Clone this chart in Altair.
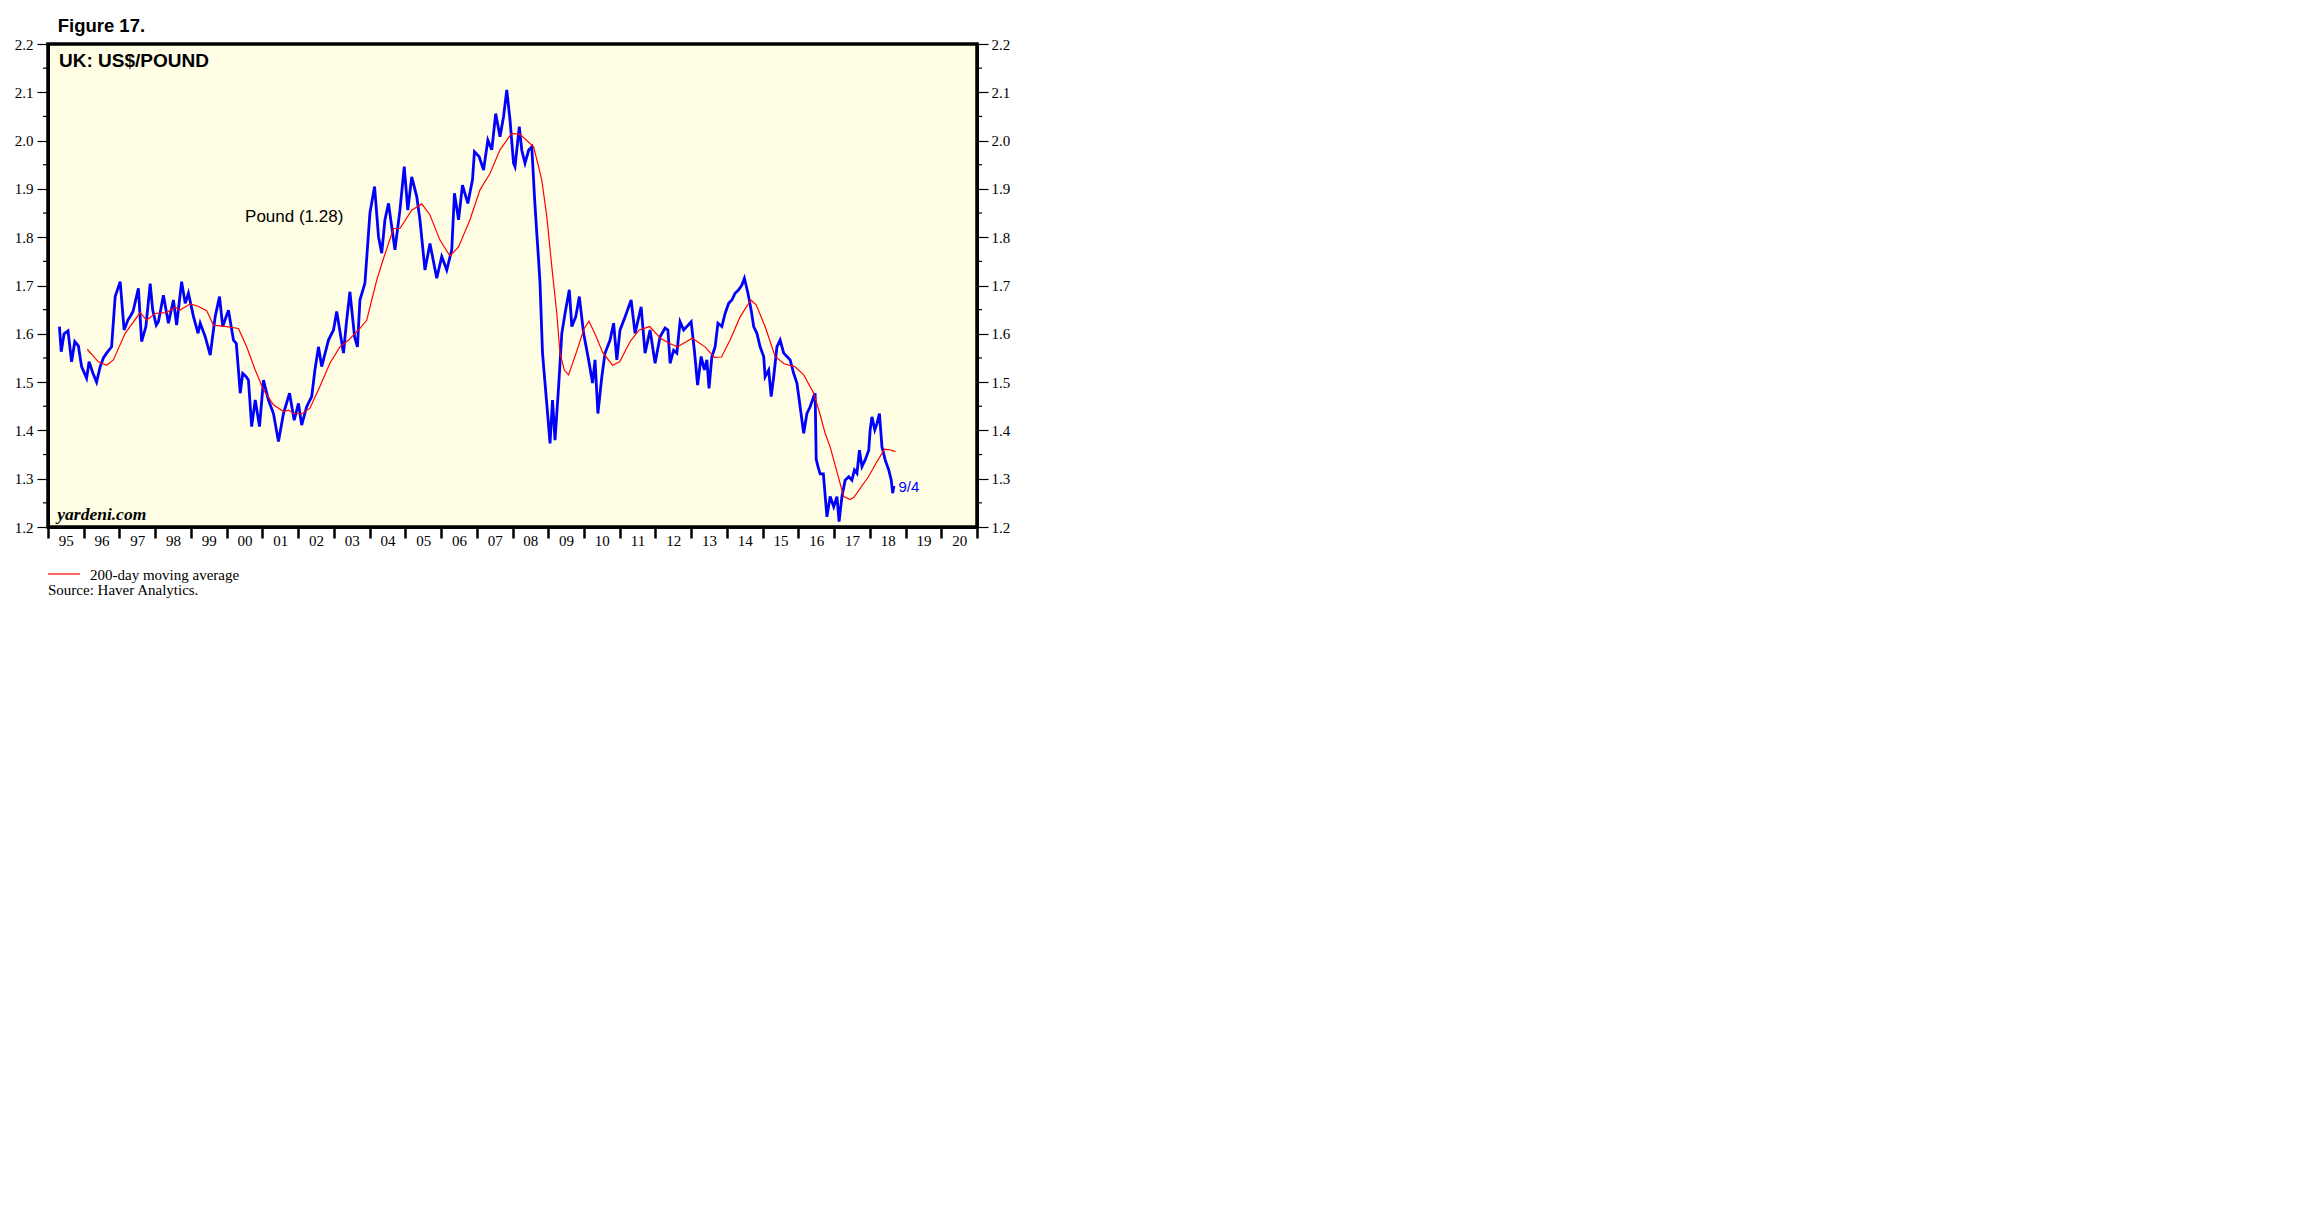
import altair as alt
import pandas as pd

# ---------------- data ----------------
pound_t = [1995.32, 1995.37, 1995.45, 1995.56, 1995.66, 1995.75, 1995.85, 1995.94, 1996.08, 1996.15,
           1996.25, 1996.36, 1996.46, 1996.55, 1996.64, 1996.78, 1996.88, 1997.02, 1997.13, 1997.24,
           1997.30, 1997.38, 1997.53, 1997.62, 1997.74, 1997.86, 1997.93, 1998.03, 1998.09, 1998.23,
           1998.37, 1998.51, 1998.60, 1998.74, 1998.84, 1998.93, 1999.07, 1999.20, 1999.26, 1999.40,
           1999.54, 1999.68, 1999.80, 1999.89, 2000.05, 2000.19, 2000.27, 2000.33, 2000.38, 2000.45,
           2000.55, 2000.61, 2000.70, 2000.80, 2000.92, 2001.03, 2001.17, 2001.31, 2001.45, 2001.59,
           2001.76, 2001.89, 2002.01, 2002.10, 2002.24, 2002.38, 2002.47, 2002.57, 2002.66, 2002.85,
           2002.99, 2003.08, 2003.27, 2003.35, 2003.45, 2003.58, 2003.66, 2003.73, 2003.87, 2004.01,
           2004.14, 2004.25, 2004.34, 2004.43, 2004.53, 2004.62, 2004.71, 2004.85, 2004.97, 2005.07,
           2005.18, 2005.32, 2005.41, 2005.55, 2005.69, 2005.88, 2006.02, 2006.16, 2006.30, 2006.375,
           2006.49, 2006.60, 2006.75, 2006.88, 2006.935, 2007.065, 2007.19, 2007.31, 2007.42, 2007.53,
           2007.65, 2007.75, 2007.84, 2007.93, 2008.03, 2008.07, 2008.19, 2008.26, 2008.35, 2008.45,
           2008.54, 2008.62, 2008.68, 2008.73, 2008.77, 2008.84, 2008.91, 2008.99, 2009.05, 2009.12,
           2009.19, 2009.29, 2009.38, 2009.47, 2009.59, 2009.66, 2009.77, 2009.87, 2009.99, 2010.13,
           2010.24, 2010.31, 2010.39, 2010.50, 2010.59, 2010.73, 2010.83, 2010.92, 2011.01, 2011.15,
           2011.32, 2011.43, 2011.60, 2011.71, 2011.85, 2011.99, 2012.13, 2012.27, 2012.35, 2012.41,
           2012.51, 2012.60, 2012.69, 2012.79, 2012.88, 2013.00, 2013.09, 2013.18, 2013.28, 2013.37,
           2013.44, 2013.50, 2013.58, 2013.67, 2013.75, 2013.86, 2013.95, 2014.05, 2014.14, 2014.23,
           2014.33, 2014.42, 2014.49, 2014.59, 2014.68, 2014.75, 2014.84, 2014.93, 2015.03, 2015.07,
           2015.17, 2015.24, 2015.31, 2015.40, 2015.49, 2015.59, 2015.68, 2015.77, 2015.87, 2015.96,
           2016.05, 2016.15, 2016.24, 2016.33, 2016.43, 2016.47, 2016.50, 2016.55, 2016.61, 2016.70,
           2016.80, 2016.89, 2016.99, 2017.08, 2017.14, 2017.22, 2017.31, 2017.41, 2017.50, 2017.57,
           2017.64, 2017.71, 2017.78, 2017.87, 2017.97, 2018.01, 2018.06, 2018.14, 2018.20, 2018.27,
           2018.34, 2018.43, 2018.53, 2018.60, 2018.64, 2018.675]
pound_v = [1.615, 1.563, 1.600, 1.606, 1.542, 1.584, 1.575, 1.532, 1.508, 1.542,
           1.520, 1.500, 1.532, 1.550, 1.560, 1.573, 1.677, 1.708, 1.608, 1.629,
           1.636, 1.646, 1.694, 1.584, 1.615, 1.704, 1.649, 1.618, 1.625, 1.680,
           1.622, 1.670, 1.618, 1.708, 1.663, 1.684, 1.636, 1.601, 1.622, 1.594,
           1.556, 1.636, 1.677, 1.615, 1.649, 1.587, 1.580, 1.525, 1.477, 1.518,
           1.511, 1.504, 1.408, 1.463, 1.408, 1.504, 1.463, 1.435, 1.377, 1.435,
           1.477, 1.421, 1.456, 1.411, 1.449, 1.470, 1.525, 1.573, 1.532, 1.587,
           1.608, 1.646, 1.560, 1.622, 1.687, 1.594, 1.573, 1.670, 1.705, 1.850,
           1.905, 1.801, 1.767, 1.836, 1.870, 1.822, 1.774, 1.856, 1.946, 1.856,
           1.925, 1.884, 1.836, 1.732, 1.787, 1.715, 1.760, 1.732, 1.774, 1.891,
           1.836, 1.908, 1.870, 1.919, 1.977, 1.967, 1.939, 2.001, 1.981, 2.056,
           2.008, 2.050, 2.105, 2.043, 1.953, 1.946, 2.029, 1.980, 1.953, 1.980,
           1.987, 1.877, 1.808, 1.753, 1.705, 1.560, 1.498, 1.428, 1.373, 1.463,
           1.380, 1.490, 1.601, 1.642, 1.691, 1.615, 1.635, 1.677, 1.601, 1.546,
           1.498, 1.546, 1.435, 1.511, 1.560, 1.587, 1.622, 1.546, 1.608, 1.635,
           1.670, 1.601, 1.656, 1.560, 1.608, 1.539, 1.594, 1.612, 1.608, 1.539,
           1.566, 1.560, 1.625, 1.608, 1.615, 1.625, 1.566, 1.494, 1.553, 1.525,
           1.546, 1.487, 1.553, 1.573, 1.622, 1.615, 1.642, 1.663, 1.670, 1.684,
           1.691, 1.701, 1.715, 1.684, 1.649, 1.615, 1.601, 1.573, 1.553, 1.511,
           1.525, 1.470, 1.511, 1.573, 1.587, 1.560, 1.553, 1.546, 1.518, 1.498,
           1.449, 1.394, 1.435, 1.449, 1.470, 1.477, 1.340, 1.325, 1.310, 1.310,
           1.221, 1.263, 1.242, 1.263, 1.211, 1.263, 1.297, 1.304, 1.297, 1.318,
           1.311, 1.359, 1.325, 1.339, 1.359, 1.401, 1.428, 1.401, 1.414, 1.435,
           1.366, 1.339, 1.318, 1.297, 1.270, 1.285]

ma_t = [1996.10, 1996.41, 1996.64, 1996.83, 1997.16, 1997.58, 1997.76, 1998.00, 1998.32, 1998.56,
        1998.70, 1998.98, 1999.20, 1999.44, 1999.63, 2000.00, 2000.33, 2000.56, 2000.80, 2001.03,
        2001.31, 2001.59, 2001.73, 2001.87, 2002.10, 2002.33, 2002.61, 2002.89, 2003.17, 2003.41,
        2003.69, 2003.92, 2004.06, 2004.20, 2004.39, 2004.67, 2004.85, 2005.18, 2005.46, 2005.69,
        2005.97, 2006.25, 2006.49, 2006.81, 2007.09, 2007.37, 2007.65, 2007.98, 2008.21, 2008.59,
        2008.73, 2008.82, 2008.96, 2009.10, 2009.24, 2009.33, 2009.45, 2009.57, 2009.78, 2010.00,
        2010.14, 2010.32, 2010.52, 2010.80, 2011.00, 2011.30, 2011.55, 2011.84, 2012.15, 2012.40,
        2012.62, 2013.03, 2013.39, 2013.65, 2013.85, 2014.09, 2014.37, 2014.67, 2014.82, 2015.07,
        2015.35, 2015.60, 2015.90, 2016.15, 2016.43, 2016.60, 2016.75, 2016.89, 2017.27, 2017.45,
        2017.56, 2017.96, 2018.20, 2018.41, 2018.55, 2018.72]
ma_v = [1.568, 1.542, 1.535, 1.546, 1.601, 1.644, 1.628, 1.642, 1.644, 1.655,
        1.649, 1.662, 1.657, 1.648, 1.618, 1.615, 1.611, 1.573, 1.525, 1.484,
        1.453, 1.439, 1.442, 1.435, 1.434, 1.446, 1.491, 1.539, 1.573, 1.587,
        1.608, 1.628, 1.670, 1.711, 1.756, 1.818, 1.818, 1.856, 1.869, 1.846,
        1.794, 1.761, 1.780, 1.836, 1.898, 1.932, 1.981, 2.015, 2.013, 1.987,
        1.946, 1.918, 1.843, 1.739, 1.642, 1.560, 1.525, 1.515, 1.560, 1.610,
        1.626, 1.598, 1.562, 1.535, 1.542, 1.585, 1.608, 1.615, 1.590, 1.580,
        1.573, 1.591, 1.573, 1.551, 1.552, 1.587, 1.635, 1.670, 1.660, 1.615,
        1.553, 1.538, 1.532, 1.515, 1.477, 1.435, 1.394, 1.366, 1.263, 1.257,
        1.262, 1.304, 1.335, 1.361, 1.360, 1.356]

year_ticks = list(range(1995, 2022))
major_y = [1.2, 1.3, 1.4, 1.5, 1.6, 1.7, 1.8, 1.9, 2.0, 2.1, 2.2]
minor_y = [1.25, 1.35, 1.45, 1.55, 1.65, 1.75, 1.85, 1.95, 2.05, 2.15]

note_labels = ["Pound (1.28)", "9/4"]
note_years = [2000.515, 2018.80]
note_values = [1.842, 1.283]

# ---------------- layout ----------------
W, H = 929, 483
SERIF = "Liberation Serif"
SANS = "Liberation Sans"

pound = pd.DataFrame({"year": pound_t, "value": pound_v})
ma = pd.DataFrame({"year": ma_t, "value": ma_v})
minor = pd.DataFrame({"v": minor_y})

xscale = alt.Scale(domain=[1995, 2021], nice=False, zero=False)
yscale = alt.Scale(domain=[1.2, 2.2], nice=False, zero=False)

x_axis = alt.Axis(
    values=year_ticks, orient="bottom",
    labelExpr="datum.value >= 2021 ? '' : substring(toString(datum.value), 2, 4)",
    labelOffset=W / 26 / 2, tickSize=11, tickWidth=2.5, tickColor="black",
    domainColor="black", domainWidth=3, labelFont=SERIF, labelFontSize=15,
    labelColor="black", labelPadding=-5, grid=False, title=None,
    labelOverlap=False, labelFlush=False, labelBound=False,
)


def y_axis(orient, pad):
    return alt.Axis(
        values=major_y, format=".1f", orient=orient, tickSize=11, tickWidth=1.2,
        tickColor="black", domainColor="black", domainWidth=3, labelFont=SERIF,
        labelFontSize=15, labelColor="black", labelPadding=pad, grid=False,
        title=None, labelOverlap=False, labelFlush=False, labelBound=False,
    )


X = alt.X("year:Q", scale=xscale, axis=x_axis)

blue = alt.Chart(pound).mark_line(color="#0000FF", strokeWidth=2.8).encode(
    x=X,
    y=alt.Y("value:Q", scale=yscale, axis=y_axis("left", 4)),
)

red = alt.Chart(ma).mark_line(color="#FF0000", strokeWidth=1.2).encode(
    x=X,
    y=alt.Y("value:Q", scale=yscale, axis=y_axis("right", 3)),
)

minor_left = alt.Chart(minor).mark_rule(color="black", strokeWidth=1.2).encode(
    y=alt.Y("v:Q", scale=yscale, axis=None), x=alt.value(-5), x2=alt.value(0)
)
minor_right = alt.Chart(minor).mark_rule(color="black", strokeWidth=1.2).encode(
    y=alt.Y("v:Q", scale=yscale, axis=None), x=alt.value(W), x2=alt.value(W + 5)
)

notes = pd.DataFrame({"year": note_years, "value": note_values, "label": note_labels,
                      "color": ["black", "#0000FF"], "size": [17, 15]})
note_text = alt.Chart(notes).mark_text(align="left", baseline="middle", font=SANS).encode(
    x=X,
    y=alt.Y("value:Q", scale=yscale, axis=None),
    text="label:N",
    color=alt.Color("color:N", scale=None),
    size=alt.Size("size:Q", scale=None),
)

fig_title = alt.Chart(pd.DataFrame({"t": ["Figure 17."]})).mark_text(
    align="left", baseline="alphabetic", font=SANS, fontWeight="bold", fontSize=18.5, color="black"
).encode(text="t:N", x=alt.value(9.7), y=alt.value(-12))

chart_title = alt.Chart(pd.DataFrame({"t": ["UK: US$/POUND"]})).mark_text(
    align="left", baseline="alphabetic", font=SANS, fontWeight="bold", fontSize=19, color="black"
).encode(text="t:N", x=alt.value(11), y=alt.value(23))

brand = alt.Chart(pd.DataFrame({"t": ["yardeni.com"]})).mark_text(
    align="left", baseline="alphabetic", font=SERIF, fontStyle="italic", fontWeight="bold",
    fontSize=17.5, color="black"
).encode(text="t:N", x=alt.value(9.3), y=alt.value(476))

legend_line = alt.Chart(pd.DataFrame({"a": [0]})).mark_rule(color="#FF0000", strokeWidth=1.2).encode(
    x=alt.value(0), x2=alt.value(32), y=alt.value(530)
)
legend_text = alt.Chart(pd.DataFrame({"t": ["200-day moving average"]})).mark_text(
    align="left", baseline="middle", font=SERIF, fontSize=15, color="black"
).encode(text="t:N", x=alt.value(42), y=alt.value(531))
source_text = alt.Chart(pd.DataFrame({"t": ["Source: Haver Analytics."]})).mark_text(
    align="left", baseline="middle", font=SERIF, fontSize=15, color="black"
).encode(text="t:N", x=alt.value(0), y=alt.value(546))

chart = alt.layer(
    blue, red, minor_left, minor_right, note_text, fig_title, chart_title, brand,
    legend_line, legend_text, source_text,
).resolve_scale(x="shared", y="shared").resolve_axis(x="shared", y="independent").properties(
    width=W, height=H,
    padding={"left": 40, "top": 36, "right": 60, "bottom": 80},
    autosize=alt.AutoSizeParams(type="none"),
    background="white",
).configure_view(
    stroke="black", strokeWidth=3.5, fill="#FFFEE5"
)

chart.save("out.html", embed_options={"renderer": "svg", "actions": False})
